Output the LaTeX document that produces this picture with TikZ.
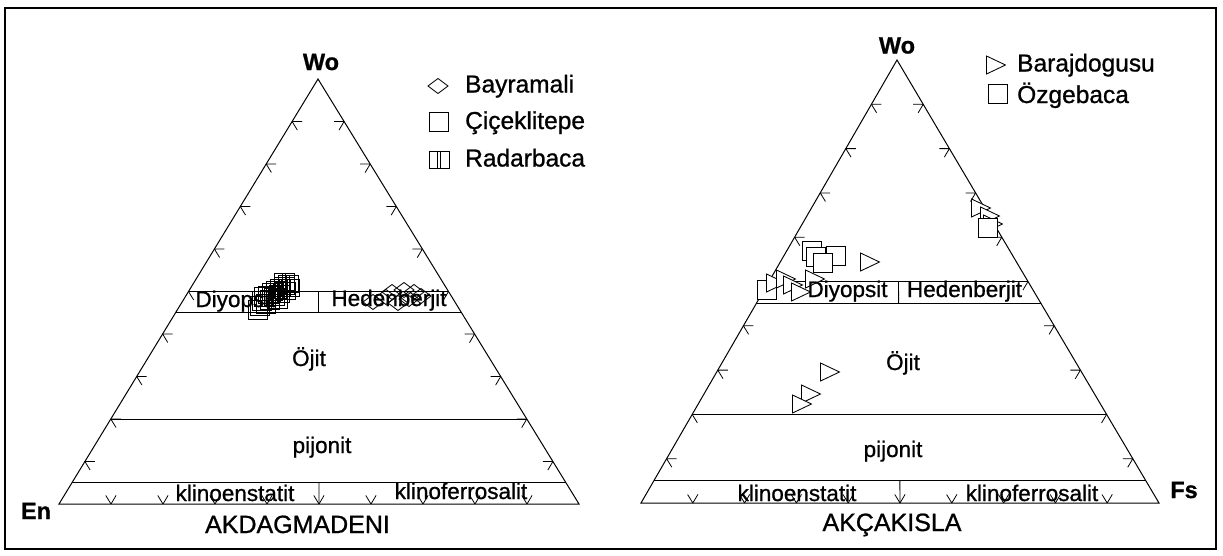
\documentclass[tikz,border=0pt]{standalone}
\usepackage{fontspec}
\setmainfont{Liberation Sans}[FakeBold=0.9]
\usetikzlibrary{calc}
\newcommand\terngrid[1]{%
  \draw[edgeline] (#1L) -- (#1R) -- (#1A) -- cycle;
  \foreach \t in {0.5,0.45,0.2,0.05}{%
    \draw[bandline] ($(#1L)!\t!(#1A)$) -- ($(#1R)!\t!(#1A)$);}
  \coordinate (#1M) at ($(#1L)!0.5!(#1R)$);
  \draw[bandline] ($(#1M)!0.45!(#1A)$) -- ($(#1M)!0.5!(#1A)$);
  \draw[bandline] (#1M) -- ($(#1M)!0.05!(#1A)$);
  \foreach \t in {0.1,0.2,0.3,0.4,0.5,0.6,0.7,0.8,0.9}{%
    \coordinate (#1p) at ($(#1L)!\t!(#1A)$);
    \draw[tickline] (#1p) -- ++(10,0) (#1p) -- ++(5.2,8.5);
    \coordinate (#1q) at ($(#1R)!\t!(#1A)$);
    \draw[tickline] (#1q) -- ++(-10,0) (#1q) -- ++(-5.1,8.6);
    \coordinate (#1r) at ($(#1L)!\t!(#1R)$);
    \draw[tickline] (#1r) -- ++(-5.2,-8.5) (#1r) -- ++(5.1,-8.6);
  }%
}
\begin{document}
\begin{tikzpicture}[x=1pt,y=-1pt,
  edgeline/.style={line width=1pt},
  bandline/.style={line width=0.85pt},
  tickline/.style={line width=0.8pt},
  mk/.style={draw, line width=0.85pt},
  lab/.style={font=\fontsize{22.5}{26}\selectfont, inner sep=0pt, anchor=base},
  legtxt/.style={font=\fontsize{24.5}{28}\selectfont, inner sep=0pt, anchor=base west},
  ttl/.style={font=\fontsize{25}{29}\selectfont, inner sep=0pt, anchor=base},
  vtx/.style={font=\bfseries\fontsize{23.5}{27}\selectfont, inner sep=0pt, anchor=base},
  pics/tri/.style={code={\path[pic actions] (-9.5,-9) -- (9.5,0) -- (-9.5,9) -- cycle;}},
  pics/sqr/.style={code={\path[pic actions] (-9.5,-9.5) rectangle (9.5,9.5);}},
  pics/dia/.style={code={\path[pic actions] (-10,0) -- (0,-7.5) -- (10,0) -- (0,7.5) -- cycle;}},
  pics/rad/.style={code={\path[pic actions] (-10,-8.5) rectangle (10,8.5);
                         \path[pic actions] (-1.5,-8.5) -- (-1.5,8.5) (1.5,-8.5) -- (1.5,8.5);}},
]
\useasboundingbox (0,0) rectangle (1223,555);
\draw[line width=1.6pt] (5,8) rectangle (1216,549);

% ---------- left diagram ----------
\coordinate (aA) at (318,79);
\coordinate (aL) at (59,504);
\coordinate (aR) at (579,504);
\terngrid{a}

\node[vtx] (aWo) at (321,70) {Wo};
\node[vtx] (aEn) at (36,519) {En};
\node[lab] (aDi) at (235.5,307) {Diyopsit};
\node[lab] (aHe) at (389,306) {Hedenberjit};
\node[lab] (aOj) at (309,366) {Öjit};
\node[lab] (aPi) at (322,453) {pijonit};
\node[lab] (aKe) at (235,501) {klinoenstatit};
\node[lab] (aKf) at (461,499) {klinoferrosalit};
\node[ttl] (aT) at (297.5,533) {AKDAGMADENI};

% data: Çiçeklitepe / Radarbaca / Bayramali
\foreach \x/\y in {260/306,262/301,266/304,270/300,264/297,278/299,258/310}{\pic[mk] at (\x,\y) {sqr};}
\foreach \x/\y in {268/295,272/292,276/290,280/288,284/286,288/284,274/297,279/294,285/291,289/288,284/282}{\pic[mk] at (\x,\y) {rad};}
\foreach \x/\y in {373/302,386/297,392/292,398/303,404/290,414/292,421/296,409/299}{\pic[mk] at (\x,\y) {dia};}

% legend
\pic[mk] at (438,86) {dia};
\pic[mk] at (439,121.5) {sqr};
\pic[mk] at (439,160) {rad};
\node[legtxt] (lg1) at (465,92.5) {Bayramali};
\node[legtxt] (lg2) at (465,129) {Çiçeklitepe};
\node[legtxt] (lg3) at (465,166.5) {Radarbaca};

% ---------- right diagram ----------
\coordinate (bA) at (897,60);
\coordinate (bL) at (641,503);
\coordinate (bR) at (1159,503);
\terngrid{b}

\node[vtx] (bWo) at (897,53.5) {Wo};
\node[vtx] (bFs) at (1184,498) {Fs};

% data: Özgebaca / Barajdogusu
\foreach \x/\y in {812/251,816/257,836/256,823/263,767/290}{\pic[mk,fill=white] at (\x,\y) {sqr};}
\foreach \x/\y in {870/262,776/283,786/279,793/285,801/292,815/279,830/372,811/394,802/404,981/208,990/216,993/224}{\pic[mk,fill=white] at (\x,\y) {tri};}
\pic[mk,fill=white] at (988,228) {sqr};

\node[lab] (bDi) at (847.5,297) {Diyopsit};
\node[lab] (bHe) at (964.5,297) {Hedenberjit};
\node[lab] (bOj) at (903,370) {Öjit};
\node[lab] (bPi) at (893,457) {pijonit};
\node[lab] (bKe) at (797,501) {klinoenstatit};
\node[lab] (bKf) at (1032,501) {klinoferrosalit};
\node[ttl] (bT) at (892,531) {AKÇAKISLA};

% legend
\pic[mk] at (996,65) {tri};
\pic[mk] at (997.5,93.5) {sqr};
\node[legtxt] (lg4) at (1017,71.5) {Barajdogusu};
\node[legtxt] (lg5) at (1017,103) {Özgebaca};
\end{tikzpicture}
\end{document}
